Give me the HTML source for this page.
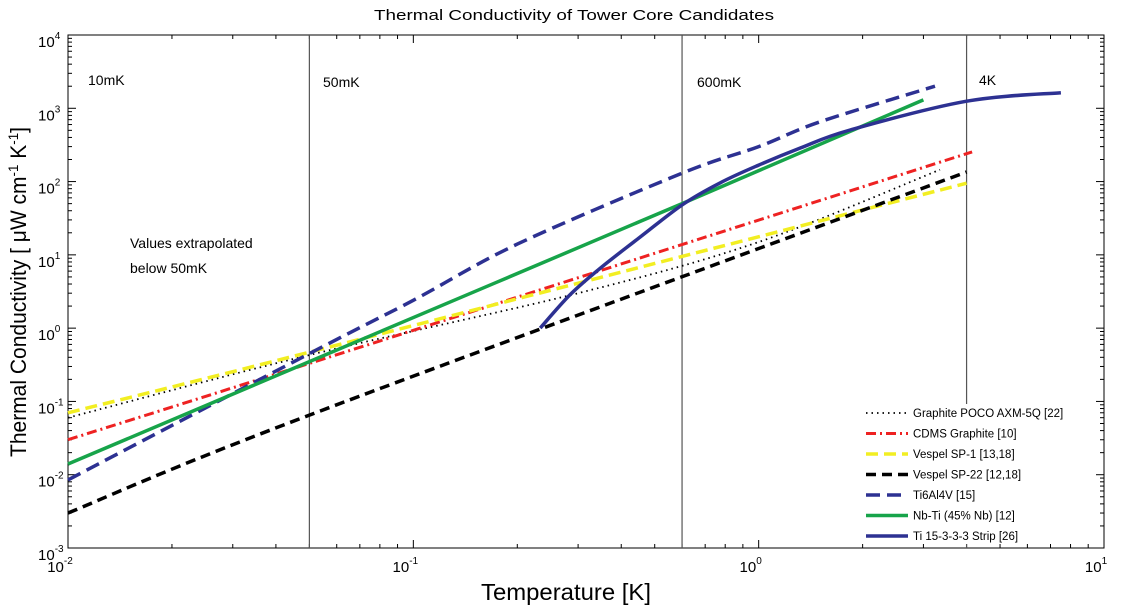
<!DOCTYPE html>
<html><head><meta charset="utf-8"><style>
html,body{margin:0;padding:0;background:#fff;}
svg{display:block;font-family:"Liberation Sans",sans-serif;}
</style></head><body>
<svg id="chart" width="1124" height="608" viewBox="0 0 1124 608" xmlns="http://www.w3.org/2000/svg">
<rect x="0" y="0" width="1124" height="608" fill="#fff"/>
<text x="574" y="20" font-size="15" text-anchor="middle" textLength="400" lengthAdjust="spacingAndGlyphs">Thermal Conductivity of Tower Core Candidates</text>
<g id="axes"></g>
<g id="series"></g>
<text x="566" y="600" font-size="23" text-anchor="middle" textLength="170" lengthAdjust="spacingAndGlyphs">Temperature [K]</text>
<text transform="translate(26,292) rotate(-90)" font-size="22" text-anchor="middle" textLength="330" lengthAdjust="spacingAndGlyphs">Thermal Conductivity [ μW cm<tspan font-size="14" dy="-8">-1</tspan><tspan dy="8"> K</tspan><tspan font-size="14" dy="-8">-1</tspan><tspan dy="8">]</tspan></text>
<text x="88" y="85" font-size="14">10mK</text>
<text x="323" y="87" font-size="14">50mK</text>
<text x="697" y="87" font-size="14">600mK</text>
<text x="979" y="85" font-size="14">4K</text>
<text x="130" y="248" font-size="14">Values extrapolated</text>
<text x="130" y="273" font-size="14">below 50mK</text>
<g id="legend"></g>
</svg>
<script>
const NS="http://www.w3.org/2000/svg";
const xTicks=[0.01,0.1,1,10];
const xTickExp=["-2","-1","0","1"];
const yTicks=[0.001,0.01,0.1,1,10,100,1000,10000];
const yTickExp=["-3","-2","-1","0","1","2","3","4"];
const markerTemps=[0.05,0.6,4];
const seriesNames=["Graphite POCO AXM-5Q [22]","CDMS Graphite [10]","Vespel SP-1 [13,18]","Vespel SP-22 [12,18]","Ti6Al4V [15]","Nb-Ti (45% Nb) [12]","Ti 15-3-3-3 Strip [26]"];
const graphiteT=[0.01,0.05,0.3,1,3.35];
const graphiteK=[0.06,0.43,3.0,15,145];
const cdmsT=[0.01,0.05,4.15];
const cdmsK=[0.03,0.33,254];
const sp1T=[0.01,0.05,4.0];
const sp1K=[0.07,0.47,95];
const sp22T=[0.01,0.05,4.0];
const sp22K=[0.003,0.065,135];
const ti6T=[0.01,0.05,0.1,0.2,0.6,1.0,1.5,3.24];
const ti6K=[0.0085,0.45,2.4,14,130,300,650,2000];
const nbtiT=[0.01,0.05,0.6,3.0];
const nbtiK=[0.014,0.35,50,1300];
const ti15T=[0.233,0.284,0.348,0.454,0.6,0.773,1.0,1.32,1.84,4.0,7.5];
const ti15K=[1.0,2.84,6.6,17.5,48,96,168,287,506,1250,1630];
const X0=68,X1=1104,Y0=548,Y1=35;
const sx=v=>X0+(Math.log10(v)+2)/3*(X1-X0);
const sy=v=>Y0-(Math.log10(v)+3)/7*(Y0-Y1);
const ax=document.getElementById('axes');
function mk(tag,attrs,parent){const e=document.createElementNS(NS,tag);for(const k in attrs)e.setAttribute(k,attrs[k]);parent.appendChild(e);return e;}
mk('rect',{x:X0,y:Y1,width:X1-X0,height:Y0-Y1,fill:'none',stroke:'#000','stroke-width':1},ax);
for(let d=-2;d<1;d++)for(let m=1;m<10;m++){const x=sx(m*Math.pow(10,d));
 const L=m===1?8:4;
 mk('line',{x1:x,x2:x,y1:Y0,y2:Y0-L,stroke:'#000'},ax);mk('line',{x1:x,x2:x,y1:Y1,y2:Y1+L,stroke:'#000'},ax);}
for(let d=-3;d<4;d++)for(let m=1;m<10;m++){const y=sy(m*Math.pow(10,d));
 const L=m===1?8:4;
 mk('line',{x1:X0,x2:X0+L,y1:y,y2:y,stroke:'#000'},ax);mk('line',{x1:X1,x2:X1-L,y1:y,y2:y,stroke:'#000'},ax);}
xTicks.forEach((v,i)=>{const t=mk('text',{x:sx(v)-8,y:Y0+24,'font-size':15,'text-anchor':'middle'},ax);
 
 
 t.innerHTML='10<tspan font-size="10" dy="-8">'+xTickExp[i]+'</tspan>';});
yTicks.forEach((v,i)=>{const t=mk('text',{x:X0-30,y:sy(v)+12,'font-size':15,'text-anchor':'start'},ax);
 
 
 t.innerHTML='10<tspan font-size="10" dy="-8">'+yTickExp[i]+'</tspan>';});
markerTemps.forEach(v=>{const l=mk('line',{x1:sx(v),x2:sx(v),y1:Y1,y2:Y0,stroke:'#555','stroke-width':1.2},ax);
 
 });
const styles=[
 {c:'#000',w:1.8,d:'1.5 4'},
 {c:'#ee2222',w:3,d:'10 4 2 4'},
 {c:'#f2ee22',w:3.5,d:'12 6'},
 {c:'#000',w:3.5,d:'10 6'},
 {c:'#2d3192',w:3.5,d:'14 7'},
 {c:'#17a44a',w:3.5,d:''},
 {c:'#2d3192',w:3.5,d:''}];
const data=[[graphiteT,graphiteK],[cdmsT,cdmsK],[sp1T,sp1K],[sp22T,sp22K],[ti6T,ti6K],[nbtiT,nbtiK],[ti15T,ti15K]];
const sg=document.getElementById('series');
const names=['graphite-poco-line','cdms-graphite-line','vespel-sp1-line','vespel-sp22-line','ti6al4v-line','nbti-line','ti15333-line'];
function smoothPath(P){
 let d='M'+P[0][0].toFixed(1)+','+P[0][1].toFixed(1);
 for(let i=0;i<P.length-1;i++){
  const p0=P[Math.max(0,i-1)],p1=P[i],p2=P[i+1],p3=P[Math.min(P.length-1,i+2)];
  const c1=[p1[0]+(p2[0]-p0[0])/6,p1[1]+(p2[1]-p0[1])/6];
  const c2=[p2[0]-(p3[0]-p1[0])/6,p2[1]-(p3[1]-p1[1])/6];
  d+=' C'+c1[0].toFixed(1)+','+c1[1].toFixed(1)+' '+c2[0].toFixed(1)+','+c2[1].toFixed(1)+' '+p2[0].toFixed(1)+','+p2[1].toFixed(1);
 }
 return d;
}
data.forEach((s,i)=>{const P=s[0].map((t,j)=>[sx(t),sy(s[1][j])]);
 const p=mk('path',{d:smoothPath(P),fill:'none',stroke:styles[i].c,'stroke-width':styles[i].w,'stroke-dasharray':styles[i].d,'stroke-linejoin':'round'},sg);
 
 });
const lg=document.getElementById('legend');
mk('rect',{x:862,y:404,width:220,height:140,fill:'#fff'},lg);
seriesNames.forEach((n,i)=>{const y=413+i*20.5;
 const l=mk('line',{x1:866,x2:908,y1:y,y2:y,stroke:styles[i].c,'stroke-width':styles[i].w,'stroke-dasharray':styles[i].d},lg);
 
 
 const t=mk('text',{x:913,y:y+4,'font-size':11.5},lg);
 t.textContent=n;
 
 });
</script>
</body></html>
